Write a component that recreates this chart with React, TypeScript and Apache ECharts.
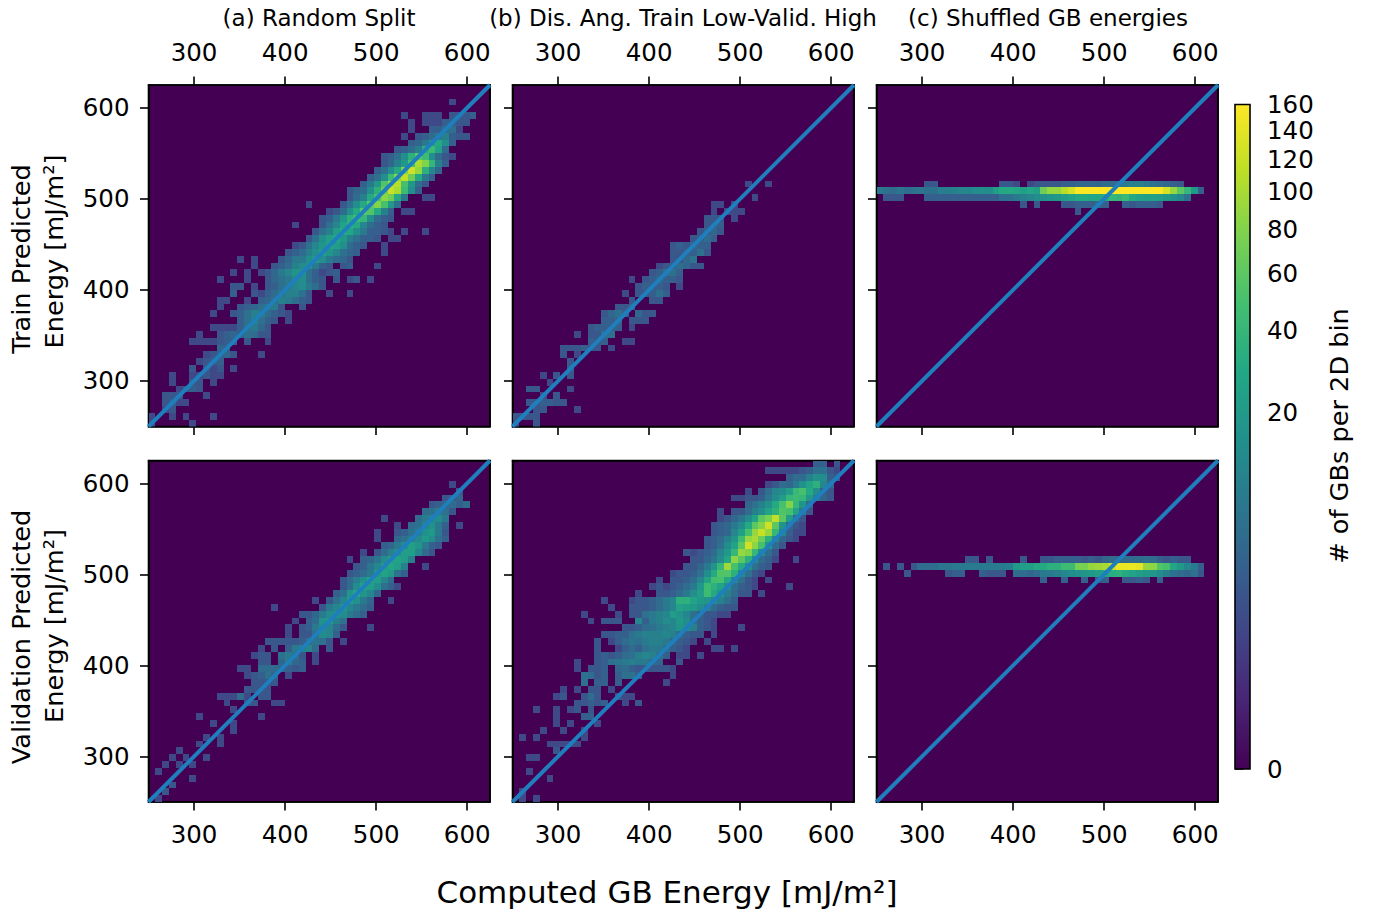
import React, { useEffect, useRef } from "react";
import * as echarts from "echarts";

type Run = [number, number, number[]];

// Each run: [row from the top of the panel, first column, counts of consecutive bins]
const trainRandom: Run[] = [
  [2,44,[1]],[4,37,[1]],[4,40,[1,1,1]],[4,44,[2,2,2,3]],
  [5,38,[1]],[5,40,[1,1,1]],[5,43,[3,3,2,2]],
  [6,38,[1]],[6,41,[3,3,5,6,1]],
  [7,37,[1]],[7,39,[2,3,5,8,10,3,2,2]],
  [8,38,[3,4,8,20,30,15,3]],
  [9,36,[2,3,5,10,35,45,25,5]],
  [10,34,[2,3,6,15,35,60,45,15,5,2,1]],
  [11,34,[2,4,10,20,50,100,80,40,10,3]],
  [12,33,[3,6,14,30,80,125,90,35,12,4]],
  [13,32,[3,6,15,45,85,115,70,30,8,3]],
  [14,31,[3,8,20,55,100,110,50,20,5,2]],
  [15,29,[2,4,5,15,35,70,120,100,45,15,3]],
  [16,29,[2,5,10,30,50,85,70,30,8]],[16,40,[1,1]],
  [17,23,[1]],[17,28,[2,6,15,30,60,80,50,20,6]],
  [18,26,[1,2,5,15,30,60,55,30,10,3]],[18,37,[1,1]],
  [19,25,[2,3,8,18,35,45,40,15,5,3,2]],
  [20,21,[1]],[20,25,[2,6,12,25,35,30,12,5,3,2]],
  [21,24,[2,6,10,22,30,28,15,8,3,3,2]],[21,37,[1]],[21,40,[1]],[21,35,[1]],
  [22,23,[2,6,15,22,28,20,10,6,3,3,2]],[22,35,[1,1]],
  [23,21,[1,2,6,12,18,25,22,15,5,3,2]],[23,34,[1]],
  [24,20,[2,3,5,10,15,22,18,12,6,4,3]],[24,34,[1]],
  [25,13,[1]],[25,15,[1]],[25,19,[2,4,8,8,15,20,15,8,5,4,2]],
  [26,15,[1]],[26,18,[2,3,5,10,14,16,8,3,2,0,2,3]],[26,33,[1]],
  [27,12,[1]],[27,14,[1]],[27,16,[1,2,4,8,12,18,16,6,3,1,2,3]],
  [28,10,[1]],[28,14,[1]],[28,17,[2,4,6,8,14,14,6,3,2]],[28,27,[2]],[28,29,[1,2]],[28,32,[1]],
  [29,12,[2,2]],[29,15,[1]],[29,17,[2,3,6,8,12,14,8,5,2]],
  [30,12,[3]],[30,15,[2,1,3,5,7,10,10,6,2]],[30,26,[1]],[30,29,[1]],
  [31,10,[1,1]],[31,14,[1]],[31,16,[3,4,6,10,8,5,3,2]],
  [32,10,[1]],[32,13,[2,3,4,6,8,8,2]],[32,22,[2]],
  [33,9,[1]],[33,12,[2,3,6,10,8,5,3,2,1]],
  [34,13,[3,6,10,6,3,2]],[34,20,[1]],
  [35,9,[1,1,1,1,3,6,8,4,2]],
  [36,7,[1]],[36,10,[2,3,4,3,6,5,2,2]],
  [37,6,[1,1,1,1,2,3,3]],[37,14,[2]],[37,17,[1]],
  [38,10,[4,3]],
  [39,8,[1,2,3,4,2]],[39,16,[1]],
  [40,7,[1,2,3,3]],
  [41,6,[2]],[41,8,[2,1,2]],[41,12,[1]],
  [42,3,[1]],[42,6,[1,1,2,1,1]],
  [43,3,[1]],[43,6,[2,2]],[43,9,[1]],
  [44,4,[1,2,3,2]],
  [45,2,[2,2,2]],[45,8,[1]],
  [46,2,[2,3,1,1]],
  [47,2,[1,2]],
  [48,0,[1]],[48,3,[1]],[48,5,[1]],[48,9,[1]],
  [49,0,[1]],[49,6,[1]],
];

const trainAngle: Run[] = [
  [14,34,[1]],[14,37,[1]],[16,35,[1]],
  [17,29,[1,1]],[17,32,[1]],
  [18,29,[1]],[18,31,[1,1,1]],
  [19,28,[2,2,2]],[19,32,[1]],
  [20,28,[2,3,3]],
  [21,27,[2,3,4,2]],
  [22,26,[2,3,5,3]],
  [23,23,[2,3,2,4,3,3]],
  [24,23,[2,2,3,3,6,2]],
  [25,23,[2,2,4,7]],
  [26,21,[1,2,3,5,4,2,2]],
  [27,20,[2,3,6,6,3]],
  [28,17,[1]],[28,19,[2,3,4,3,3,2]],
  [29,18,[2,3,3,3,2]],[29,24,[1]],
  [30,16,[1]],[30,18,[2,2,3,6,3]],
  [31,17,[2]],[31,20,[2,2]],
  [32,15,[2,2,3]],
  [33,13,[2,4,6,3]],[33,18,[4,2,2]],
  [34,13,[3,3,4]],[34,17,[2,2,2]],
  [35,11,[2,3,3,3,3]],[35,17,[1]],
  [36,9,[1]],[36,11,[2,2,6,6]],
  [37,11,[3,2,3]],[37,16,[1,1]],
  [38,7,[2,2,2,3,2,2]],[38,14,[1]],
  [39,7,[2]],[39,9,[1]],
  [40,8,[2]],[41,8,[3]],
  [42,4,[1]],[42,6,[2]],[42,8,[2]],
  [43,5,[1]],
  [44,2,[2,2]],[44,8,[1]],
  [45,4,[1]],[45,6,[2]],
  [46,2,[2,2,3,3,2,2]],
  [47,3,[2,2]],[47,9,[1]],
  [48,0,[2,2,2,2]],
  [49,0,[1]],[49,3,[2]],
];

const trainShuffled: Run[] = [
  [14,7,[2,2]],[14,18,[2,2,1]],
  [14,22,[1,2,2,2,2,3,3,4,4,4,4,5,5,6,8,10,10,8,6,5,4,3,2]],
  [15,0,[8,6,5,7,5,6,7,6,6,9,9,10,12,12,14,15,14,24,30,30,28,24,28,24,70,90,90,110,130,160,160,160,160,160,160,160,160,160,160,160,160,160,130,90,60,40,20,3]],
  [16,1,[2,2,2]],
  [16,7,[3,3,3,3,3,3,3,3,3,3,3,6,6,8,10,12,14,16,18,20,22,26,30,30,28,28,30,40,38,42,30,25,24,24,22,20,16,12,6]],
  [17,21,[2]],[17,23,[2]],[17,27,[2,2,3,3,3,4,3]],[17,36,[3,2,3,3,3,2]],
  [18,29,[2]],
];

const validRandom: Run[] = [
  [3,44,[1]],[4,45,[2]],
  [5,43,[2,3,4]],
  [6,41,[2,3,4,5,3,5]],
  [7,40,[5,6,8,6,2]],
  [8,34,[1]],[8,39,[5,8,12,14,8]],
  [9,36,[1]],[9,38,[5,6,12,16,8,3]],[9,45,[1]],
  [10,33,[1]],[10,36,[2,3,6,10,16,20,8,2]],
  [11,33,[1]],[11,36,[4,6,9,13,20,14,6,3]],
  [12,34,[3,4,8,14,24,18,8,3,2]],
  [13,31,[1]],[13,33,[2,5,10,14,22,24,12,5,2]],
  [14,29,[1]],[14,31,[3,4,7,14,22,25,22,10]],
  [15,30,[2,3,7,12,22,28,22,10]],[15,40,[1]],
  [16,29,[2,3,5,8,20,26,20,6,3]],
  [17,28,[2,5,9,16,26,22,12,5]],
  [18,28,[2,5,14,24,22,14,6,3,1]],
  [19,27,[3,6,18,28,18,12,4]],
  [20,24,[1]],[20,26,[2,6,12,22,16,8,4]],[20,35,[1]],
  [21,18,[1]],[21,25,[2,8,12,18,12,8,5,3]],
  [22,22,[2,2,4,8,14,16,14,8,5,3]],
  [23,21,[1]],[23,23,[3,5,16,20,10,6]],
  [24,20,[1]],[24,22,[2,3,8,14,12,5,2]],[24,32,[1]],
  [25,20,[1]],[25,22,[2,2,6,14,12,3]],
  [26,17,[2,2,2,2,2,3,6,7,6,2]],[26,28,[1]],
  [27,16,[1]],[27,18,[2]],[27,20,[3,8,10,12,5]],[27,26,[2]],
  [28,15,[1,2,2]],[28,19,[6,8,6,2]],[28,24,[1]],
  [29,16,[2,2]],[29,19,[4,8,4,3]],[29,24,[1]],
  [30,13,[1,1]],[30,16,[5,5,5,4,3,2,3]],
  [31,14,[1,2,3,6,4]],[31,20,[1]],
  [32,15,[2,2,2,2]],
  [33,14,[2,2,2,2]],
  [34,10,[1,1,1,5,1]],[34,16,[2,2]],
  [35,11,[1]],[35,14,[2,2]],[35,18,[1,1]],
  [36,12,[1]],
  [37,7,[1]],[37,16,[1]],
  [38,9,[1]],[38,12,[1]],
  [39,12,[1]],
  [40,8,[1]],[40,10,[1]],
  [41,7,[1]],[41,10,[1]],
  [42,4,[1]],
  [43,3,[1]],[43,5,[1]],[43,8,[1]],
  [44,2,[1]],[44,4,[1]],[44,6,[1]],
  [45,1,[1]],
  [46,6,[1]],
  [47,3,[2]],
  [48,2,[2]],
  [49,1,[1]],
];

const validAngle: Run[] = [
  [0,44,[3,3]],[0,47,[2]],
  [1,37,[1,1,1,1,1,2,3,6,6,2,1]],
  [2,40,[3,5,5,10,16,14,3,2]],
  [3,37,[1,2,5,4,8,16,25,35,12,5]],
  [4,34,[1]],[4,36,[2,6,12,14,22,42,50,30,14,3,2]],
  [5,32,[1,1,2,2]],[5,36,[3,8,14,22,40,45,40,20,10,4,2]],
  [6,34,[4,6,10,16,30,50,80,40,18,5]],
  [7,30,[1]],[7,32,[2,2,5,10,14,26,36,55,50,25,8,2]],
  [8,30,[1]],[8,31,[2,4,7,14,26,60,75,115,60,22,5,2]],
  [9,29,[2,3,4,8,14,30,60,80,125,60,18,4,2,1]],
  [10,29,[2,3,4,12,24,50,90,120,90,40,12,3,1,1]],
  [11,28,[2,3,5,10,18,45,90,100,70,35,12,4,2,1]],
  [12,28,[2,3,6,14,25,60,125,85,50,20,5,2,0]],
  [13,25,[2,1,2,3,5,12,20,40,90,80,40,15,5,2]],
  [14,26,[2,2,4,7,14,28,85,60,35,15,5,3,1]],[14,41,[1]],
  [15,25,[2,2,4,8,18,40,95,50,30,15,6,3,2]],
  [16,23,[1,2,2,3,6,14,30,55,55,35,12,6,2,1]],
  [17,21,[1]],[17,23,[2,2,3,5,12,25,48,50,30,12,6,2,1]],[17,37,[1]],
  [18,20,[1,2,1,2,3,5,8,20,45,35,25,15,6,3,2,1]],[18,40,[1]],
  [19,18,[1]],[19,21,[2,2,3,5,8,15,22,45,30,18,10,5,2,2]],[19,36,[1]],
  [20,13,[1]],[20,17,[1,2,2,3,5,8,12,35,35,25,20,18,14,10,6,3]],
  [21,14,[1]],[21,17,[2,2,2,3,5,8,12,25,22,20,14,10,5,3,2,2]],
  [22,10,[1]],[22,15,[1]],[22,17,[2,2,6,8,10,12,22,18,12,6,3,2,2,1,1]],
  [23,11,[1]],[23,13,[2,2,2]],[23,18,[12,3,8,10,14,12,20,14,6,3,2,1]],
  [24,16,[2,2,3,5,6,8,10,12,18,14,10,3,2,1]],[24,33,[1]],
  [25,13,[2,2,3,3,6,8,10,10,10,12,10,5,3,2,2]],[25,29,[1]],
  [26,12,[2]],[26,14,[1]],[26,15,[3,5,7,6,8,10,10,8,4,3,2,1]],[26,28,[1]],
  [27,12,[2]],[27,15,[1,3,5,3,6,8,8,5,3,2,1]],[27,29,[1,1]],[27,32,[1]],
  [28,12,[2,3,2,3,5,6,10,12,10,6,3]],[28,24,[1,1]],[28,27,[1]],
  [29,9,[1]],[29,12,[2,3,6,7,8,10,8,8,5,4]],[29,24,[2]],
  [30,9,[1]],[30,11,[2,2,3]],[30,15,[4,5,3,2,2,2,2,2,1]],
  [31,10,[6,5,2,3]],[31,15,[3,6,6,3]],[31,23,[1]],
  [32,10,[6]],[32,12,[3,3]],[32,15,[3]],[32,22,[1]],
  [33,7,[1]],[33,9,[1]],[33,11,[2,2]],[33,14,[1]],
  [34,6,[1,2]],[34,10,[2,5,2]],[34,15,[2,1,1]],
  [35,9,[2,2,3,2,3]],[35,16,[1]],[35,18,[2]],
  [36,3,[1]],[36,6,[1]],[36,8,[1,2]],[36,11,[2]],
  [37,6,[1]],[37,10,[3,3]],
  [38,6,[1]],[38,8,[1]],[38,12,[1]],
  [39,4,[1]],[39,7,[1]],[39,10,[1]],
  [40,1,[1]],[40,3,[1]],[40,10,[1]],
  [41,5,[1,1,1,1,2]],[41,9,[1]],
  [42,6,[2]],
  [43,2,[1,1]],
  [45,2,[1]],
  [46,5,[1]],
  [48,1,[1]],
  [49,1,[1]],[49,3,[1]],
];

const validShuffled: Run[] = [
  [14,13,[2,2]],[14,16,[2]],[14,21,[2]],
  [14,24,[2,2,3,3,3,3,2,3,2,4,5,4,5,5,5,6,5,3,2,3,2]],[14,45,[2]],
  [15,1,[2]],[15,3,[2]],
  [15,5,[2,5,5,5,7,7,8,8,8,8,8,8,8,8,9,20,22,24,30,30,35,35,45,45,75,75,90,95,100,120,145,145,145,140,90,85,55,50,28,20,12,8,3]],
  [16,4,[2]],[16,10,[2,3,3]],[16,15,[3,2,2,2]],
  [16,20,[5,5,4,5,8,8,10,12,14,16,18,20,22,28,32,35,30,25,22,20,18,14,10,6,5,4,6,2]],
  [17,24,[3]],[17,27,[3]],[17,30,[3]],[17,32,[2,3]],[17,36,[2,2,3,2]],[17,41,[3]],
];

const panels = [trainRandom, trainAngle, trainShuffled, validRandom, validAngle, validShuffled];
const identityLine = [[250, 250], [625, 625]];
const energyTicks = [300, 400, 500, 600];
const colorbarTicks = [0, 20, 40, 60, 80, 100, 120, 140, 160];
const panelTitles = ["(a) Random Split", "(b) Dis. Ang. Train Low-Valid. High", "(c) Shuffled GB energies"];
const viridis = ["#440154","#482475","#414487","#355f8d","#2a788e","#21918c","#22a884","#44bf70","#7ad151","#bddf26","#fde725"];

const GAMMA = 0.3;
const VMAX = 160;
const BIN = 7.5;
const LOW = 250;
const HIGH = 625;
const FONT = "DejaVu Sans";
const TICK_LEN = 8.5;
const STROKE = 1.6;

const toNorm = (v: number) => Math.pow(Math.min(v, VMAX) / VMAX, GAMMA);

function hex(c: string) {
  return [1, 3, 5].map((i) => parseInt(c.slice(i, i + 2), 16));
}
function colorOf(v: number) {
  const t = toNorm(v) * 10;
  const i = Math.min(9, Math.floor(t));
  const a = hex(viridis[i]);
  const b = hex(viridis[i + 1]);
  const f = t - i;
  return `rgb(${a.map((x, k) => Math.round(x + (b[k] - x) * f)).join(",")})`;
}

function expand(runs: Run[]) {
  const out: number[][] = [];
  runs.forEach(([row, col, counts]) => {
    counts.forEach((n, k) => {
      if (n > 0) out.push([LOW + (col + k) * BIN, HIGH - (row + 1) * BIN, n]);
    });
  });
  return out;
}

const lefts = [148.5, 512.5, 876.5];
const tops = [85, 460.5];
const SIZE = 341.5;

function buildOption() {
  const grid: any[] = [];
  const xAxis: any[] = [];
  const yAxis: any[] = [];
  const series: any[] = [];
  const axisLine = { show: true, onZero: false, lineStyle: { color: "#000", width: STROKE } };
  const tick = { show: true, length: TICK_LEN, lineStyle: { color: "#000", width: STROKE } };

  panels.forEach((runs, p) => {
    const rowIdx = p < 3 ? 0 : 1;
    const colIdx = p % 3;
    grid.push({
      left: lefts[colIdx], top: tops[rowIdx], width: SIZE, height: 341.5,
      show: true, backgroundColor: "#440154", borderColor: "#000", borderWidth: STROKE,
    });
    const gi = p;
    const mainX = xAxis.length;
    xAxis.push({
      gridIndex: gi, type: "value", min: LOW, max: HIGH, position: rowIdx === 0 ? "top" : "bottom",
      axisLine, axisTick: { ...tick, customValues: energyTicks },
      splitLine: { show: false },
      axisLabel: { show: true, customValues: energyTicks, fontFamily: FONT, fontSize: 24.5, color: "#000", margin: 20, hideOverlap: false },
    });
    xAxis.push({
      gridIndex: gi, type: "value", min: LOW, max: HIGH, position: rowIdx === 0 ? "bottom" : "top",
      axisLine, axisTick: { ...tick, show: rowIdx === 0, customValues: energyTicks },
      splitLine: { show: false }, axisLabel: { show: false },
    });
    const mainY = yAxis.length;
    yAxis.push({
      gridIndex: gi, type: "value", min: LOW, max: HIGH, position: "left",
      axisLine, axisTick: { ...tick, customValues: energyTicks },
      splitLine: { show: false },
      axisLabel: { show: colIdx === 0, customValues: energyTicks, fontFamily: FONT, fontSize: 24.5, color: "#000", margin: 19 },
    });
    yAxis.push({
      gridIndex: gi, type: "value", min: LOW, max: HIGH, position: "right",
      axisLine, axisTick: { show: false }, splitLine: { show: false }, axisLabel: { show: false },
    });
    series.push({
      type: "custom", coordinateSystem: "cartesian2d", xAxisIndex: mainX, yAxisIndex: mainY,
      silent: true, clip: true, encode: { x: 0, y: 1 }, data: expand(runs),
      renderItem: (_: any, api: any) => {
        const x0 = api.value(0);
        const y0 = api.value(1);
        const a = api.coord([x0, y0 + BIN]);
        const b = api.coord([x0 + BIN, y0]);
        const px = Math.round(a[0]);
        const py = Math.round(a[1]);
        return {
          type: "rect",
          shape: { x: px, y: py, width: Math.round(b[0]) - px, height: Math.round(b[1]) - py },
          style: { fill: colorOf(api.value(2)) },
        };
      },
    });
    series.push({
      type: "line", xAxisIndex: mainX, yAxisIndex: mainY, data: identityLine, showSymbol: false,
      symbol: "none", silent: true, lineStyle: { color: "#1f7fbd", width: 4 }, z: 5,
    });
  });

  // Colour bar: its axis runs in the normalised (power) scale
  const cbGrid = grid.length;
  grid.push({ left: 1235, top: 104.5, width: 15, height: 664.5, show: false });
  const cbX = xAxis.length;
  xAxis.push({ gridIndex: cbGrid, type: "value", min: 0, max: 1, show: false });
  const cbY = yAxis.length;
  const cbValues = colorbarTicks.map(toNorm);
  yAxis.push({
    gridIndex: cbGrid, type: "value", min: 0, max: 1, position: "right",
    axisLine: { show: false },
    axisTick: { show: true, length: TICK_LEN, lineStyle: { color: "#000", width: STROKE }, customValues: cbValues },
    splitLine: { show: false },
    axisLabel: {
      show: true, customValues: cbValues, fontFamily: FONT, fontSize: 24.5, color: "#000", margin: 17,
      formatter: (v: number) => String(Math.round(VMAX * Math.pow(v, 1 / GAMMA))),
    },
  });
  series.push({
    type: "custom", coordinateSystem: "cartesian2d", xAxisIndex: cbX, yAxisIndex: cbY, silent: true,
    encode: { x: 0, y: 1 }, data: [[0, 0]],
    renderItem: (_: any, api: any) => {
      const a = api.coord([0, 1]);
      const b = api.coord([1, 0]);
      return {
        type: "rect",
        shape: { x: a[0], y: a[1], width: b[0] - a[0], height: b[1] - a[1] },
        style: {
          fill: new echarts.graphic.LinearGradient(0, 1, 0, 0,
            viridis.map((color, i) => ({ offset: i / 10, color }))),
          stroke: "#000", lineWidth: STROKE,
        },
      };
    },
  });

  const text = (t: string, x: number, y: number, fontSize: number, rotation = 0) => ({
    type: "text", x, y, rotation, z: 20, silent: true,
    style: { text: t, fontFamily: FONT, fontSize, fill: "#000", align: "center", verticalAlign: "middle" },
  });
  const graphic = [
    text(panelTitles[0], 319, 18, 23),
    text(panelTitles[1], 683, 18, 23),
    text(panelTitles[2], 1048, 18, 23),
    text("Train Predicted", 21, 259, 25.6, Math.PI / 2),
    text("Energy [mJ/m²]", 54, 251.5, 25.6, Math.PI / 2),
    text("Validation Predicted", 21, 637, 25.6, Math.PI / 2),
    text("Energy [mJ/m²]", 54, 626, 25.6, Math.PI / 2),
    text("Computed GB Energy [mJ/m²]", 667, 892, 31),
    text("# of GBs per 2D bin", 1339, 436, 25.6, Math.PI / 2),
  ];

  return { animation: false, backgroundColor: "#fff", grid, xAxis, yAxis, series, graphic };
}

export default function App() {
  const ref = useRef<HTMLDivElement>(null);
  useEffect(() => {
    const chart = echarts.init(ref.current!, undefined, { renderer: "svg" });
    chart.setOption(buildOption() as any);
    return () => chart.dispose();
  }, []);
  return <div ref={ref} style={{ position: "absolute", left: 0, top: 0, width: 1379, height: 913 }} />;
}
